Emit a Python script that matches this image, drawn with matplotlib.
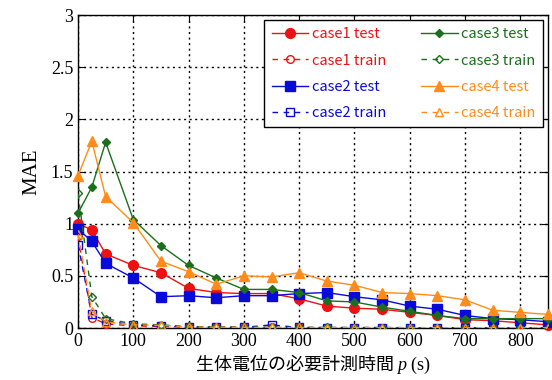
import matplotlib
matplotlib.use("Agg")
import matplotlib.pyplot as plt
from matplotlib.ticker import MultipleLocator

# measurement time p (s)
times = [0, 25, 50, 100, 150, 200, 250, 300, 350, 400, 450, 500, 550, 600, 650, 700, 750, 800, 850]

case1_test = [1.00, 0.94, 0.71, 0.60, 0.53, 0.38, 0.34, 0.33, 0.33, 0.28, 0.21, 0.19, 0.18, 0.15, 0.12, 0.08, 0.07, 0.05, 0.03]
case1_train = [0.88, 0.10, 0.04, 0.02, 0.015, 0.01, 0.008, 0.006, 0.005, 0.005, 0.004, 0.004, 0.004, 0.003, 0.003, 0.003, 0.003, 0.003, 0.003]
case2_test = [0.95, 0.83, 0.62, 0.48, 0.30, 0.31, 0.29, 0.31, 0.31, 0.33, 0.34, 0.30, 0.27, 0.21, 0.18, 0.12, 0.09, 0.08, 0.06]
case2_train = [0.80, 0.13, 0.07, 0.03, 0.02, 0.01, 0.008, 0.006, 0.03, 0.005, 0.004, 0.004, 0.004, 0.003, 0.003, 0.003, 0.003, 0.003, 0.003]
case3_test = [1.10, 1.35, 1.78, 1.04, 0.79, 0.60, 0.48, 0.37, 0.37, 0.34, 0.26, 0.25, 0.20, 0.16, 0.12, 0.09, 0.09, 0.09, 0.09]
case3_train = [1.29, 0.30, 0.09, 0.04, 0.03, 0.015, 0.01, 0.008, 0.006, 0.005, 0.005, 0.004, 0.004, 0.004, 0.003, 0.003, 0.003, 0.003, 0.003]
case4_test = [1.46, 1.79, 1.26, 1.01, 0.64, 0.54, 0.42, 0.50, 0.49, 0.53, 0.45, 0.41, 0.34, 0.33, 0.31, 0.27, 0.17, 0.15, 0.13]
case4_train = [0.90, 0.16, 0.06, 0.03, 0.025, 0.01, 0.008, 0.006, 0.005, 0.005, 0.004, 0.004, 0.004, 0.003, 0.003, 0.003, 0.003, 0.003, 0.003]

RED = "#ee1111"
BLUE = "#0a0ad8"
GREEN = "#1b6e1b"
ORANGE = "#ff8c1a"

plt.rcParams.update(
    {
        "font.family": ["Liberation Serif", "DejaVu Serif"],
        "mathtext.fontset": "custom",
        "mathtext.rm": "Liberation Serif",
        "mathtext.it": "Liberation Serif:italic",
        "xtick.direction": "in",
        "ytick.direction": "in",
        "xtick.top": True,
        "ytick.right": True,
        "axes.linewidth": 1.0,
    }
)

fig = plt.figure(figsize=(5.52, 3.8), dpi=100)
ax = fig.add_axes([0.1413, 0.1368, 0.8514, 0.8237])

series = [
    ("case1 test", case1_test, RED, "o", "-", 7, True),
    ("case1 train", case1_train, RED, "o", (0, (4, 4)), 5.5, False),
    ("case2 test", case2_test, BLUE, "s", "-", 7, True),
    ("case2 train", case2_train, BLUE, "s", (0, (4, 4)), 5.5, False),
    ("case3 test", case3_test, GREEN, "D", "-", 4.5, True),
    ("case3 train", case3_train, GREEN, "D", (0, (4, 4)), 4.5, False),
    ("case4 test", case4_test, ORANGE, "^", "-", 7, True),
    ("case4 train", case4_train, ORANGE, "^", (0, (4, 4)), 5.5, False),
]

for label, values, color, marker, ls, ms, filled in series:
    ax.plot(
        times,
        values,
        color=color,
        linestyle=ls,
        linewidth=1.0,
        marker=marker,
        markersize=ms,
        markerfacecolor=color if filled else "none",
        markeredgecolor=color,
        markeredgewidth=1.0,
        label=label,
        clip_on=False if filled else True,
        zorder=3,
    )

ax.set_xlim(0, 850)
ax.set_ylim(0, 3)
ax.xaxis.set_major_locator(MultipleLocator(100))
ax.yaxis.set_major_locator(MultipleLocator(0.5))
ax.yaxis.set_major_formatter(plt.FuncFormatter(lambda v, _: f"{v:g}"))
ax.tick_params(labelsize=13, length=5, width=0.8)
ax.grid(True, color="black", linestyle=(0, (1.5, 2.5)), linewidth=1.0)

ax.set_ylabel("MAE", fontsize=15, labelpad=7)
ax.set_xlabel(
    "生体電位の必要計測時間 $p\\ \\mathrm{(s)}$",
    fontsize=13,
    family=["Noto Sans CJK JP", "DejaVu Sans"],
    labelpad=2,
)

leg = ax.legend(
    ncol=2,
    loc="upper right",
    prop={"family": ["Noto Sans CJK JP", "DejaVu Sans"], "size": 10.5},
    labelcolor="linecolor",
    frameon=True,
    fancybox=False,
    edgecolor="black",
    framealpha=1.0,
    handlelength=2.5,
    labelspacing=0.83,
    columnspacing=2.4,
    borderaxespad=0.35,
    borderpad=0.5,
    handletextpad=0.25,
)
leg.get_frame().set_linewidth(1.0)
leg.set_zorder(5)

fig.savefig("out.png", dpi=100)
